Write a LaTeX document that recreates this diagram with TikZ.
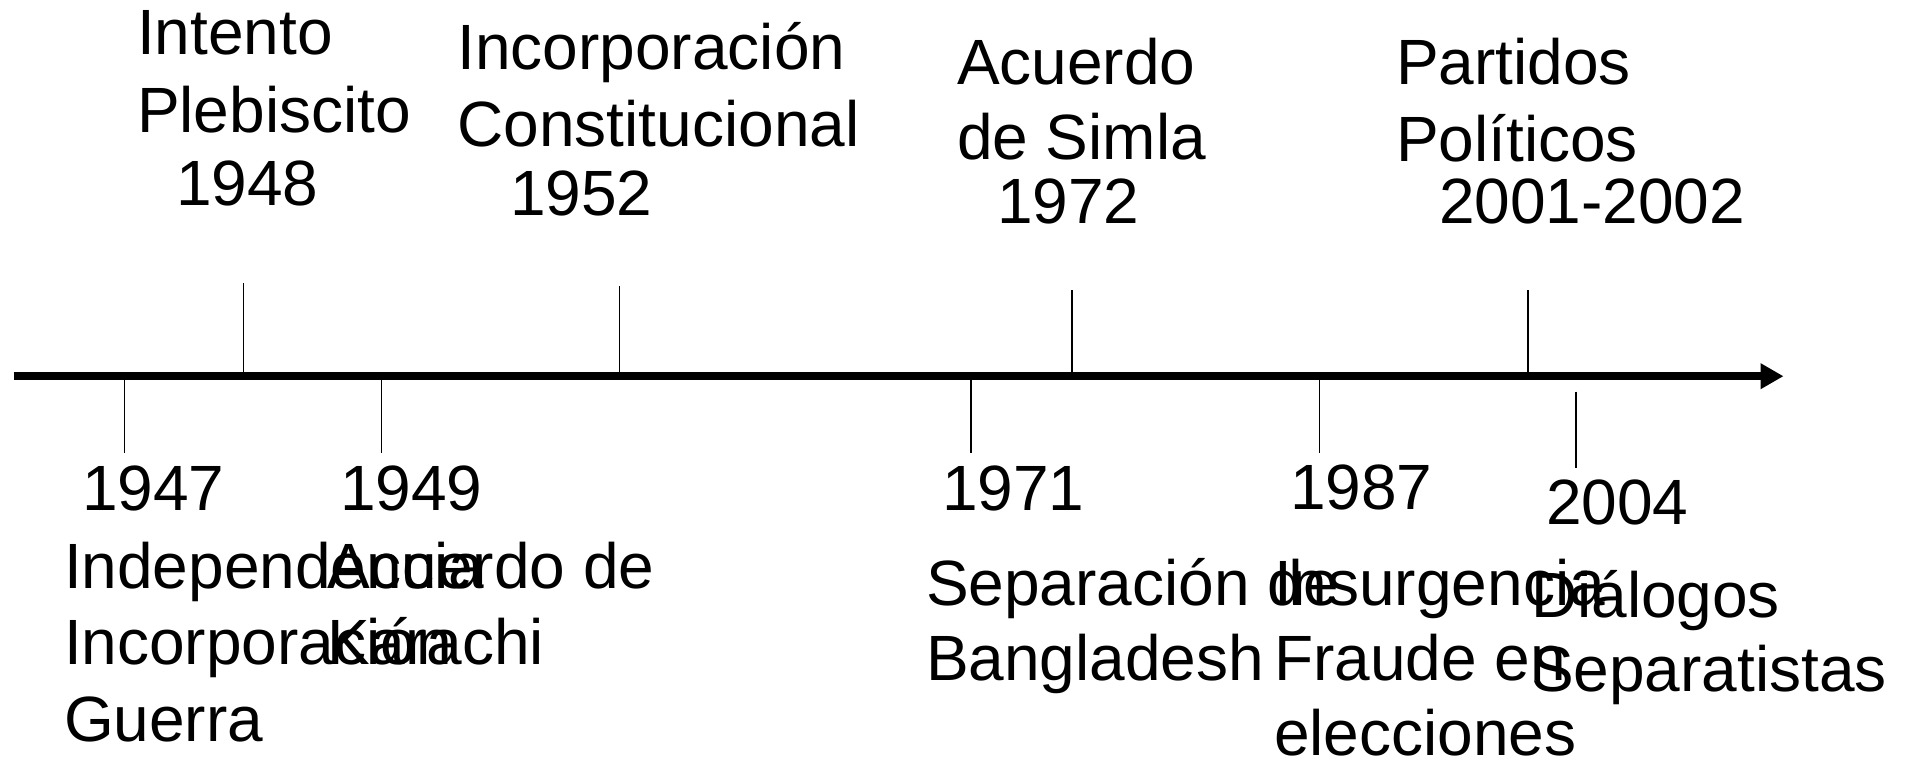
\documentclass[tikz,border=0pt]{standalone}
\usepackage{fontspec}
\setmainfont{Liberation Sans}
\usetikzlibrary{arrows.meta}
\tikzset{
  lbl/.style={anchor=base west, inner sep=0pt, outer sep=0pt, font=\fontsize{64}{77}\selectfont},
  tick/.style={line width=1.3pt, black},
  axis/.style={line width=7.7pt, black, -{Triangle[length=23pt,width=24.4pt]}}
}
\begin{document}
\begin{tikzpicture}[x=1pt,y=-1pt]
\useasboundingbox (0,0) rectangle (1910,762);
% axis
\coordinate (axs) at (13.5,376.2);
\coordinate (axe) at (1783.5,376.2);
\draw[axis] (axs) -- (axe);
% tick coordinates above
\coordinate (t48a) at (243.7,283); \coordinate (t48b) at (243.7,376);
\coordinate (t52a) at (619.7,286); \coordinate (t52b) at (619.7,376);
\coordinate (t72a) at (1072,290); \coordinate (t72b) at (1072,376);
\coordinate (t01a) at (1528,290); \coordinate (t01b) at (1528,376);
% tick coordinates below
\coordinate (t47a) at (124.5,376); \coordinate (t47b) at (124.5,453);
\coordinate (t49a) at (381.3,376); \coordinate (t49b) at (381.3,453);
\coordinate (t71a) at (971,376); \coordinate (t71b) at (971,453);
\coordinate (t87a) at (1319.3,376); \coordinate (t87b) at (1319.3,453);
\coordinate (t04a) at (1576,391.5); \coordinate (t04b) at (1576,468.3);
\foreach \a/\b in {t48a/t48b,t52a/t52b,t72a/t72b,t01a/t01b,t47a/t47b,t49a/t49b,t71a/t71b,t87a/t87b,t04a/t04b}
  \draw[tick] (\a) -- (\b);
% top labels
\node[lbl] (l48a) at (137,55) {Intento};
\node[lbl] (l48b) at (137,133) {Plebiscito};
\node[lbl] (y48) at (176,205) {1948};
\node[lbl] (l52a) at (457.5,70) {Incorporación};
\node[lbl] (l52b) at (457.5,146.7) {Constitucional};
\node[lbl] (y52) at (510,215) {1952};
\node[lbl] (l72a) at (957,85) {Acuerdo};
\node[lbl] (l72b) at (957,160) {de Simla};
\node[lbl] (y72) at (997,223) {1972};
\node[lbl] (l01a) at (1396,85) {Partidos};
\node[lbl] (l01b) at (1396,161.7) {Políticos};
\node[lbl] (y01) at (1439,223) {2001-2002};
% bottom labels
\node[lbl] (y47) at (82,510) {1947};
\node[lbl] (l47a) at (64,588.3) {Independencia};
\node[lbl] (l47b) at (64,664) {Incorporación};
\node[lbl] (l47c) at (64,741.7) {Guerra};
\node[lbl] (y49) at (340,510) {1949};
\node[lbl] (l49a) at (327,588.3) {Acuerdo de};
\node[lbl] (l49b) at (327,664) {Karachi};
\node[lbl] (y71) at (942,510) {1971};
\node[lbl] (l71a) at (926,605) {Separación de};
\node[lbl] (l71b) at (926,680.7) {Bangladesh};
\node[lbl] (y87) at (1290,509) {1987};
\node[lbl] (l87a) at (1274,605) {Insurgencia};
\node[lbl] (l87b) at (1274,680.7) {Fraude en};
\node[lbl] (l87c) at (1274,755) {elecciones};
\node[lbl] (y04) at (1546,524) {2004};
\node[lbl] (l04a) at (1531,617.3) {Diálogos};
\node[lbl] (l04b) at (1531,691.7) {Separatistas};
\end{tikzpicture}
\end{document}
